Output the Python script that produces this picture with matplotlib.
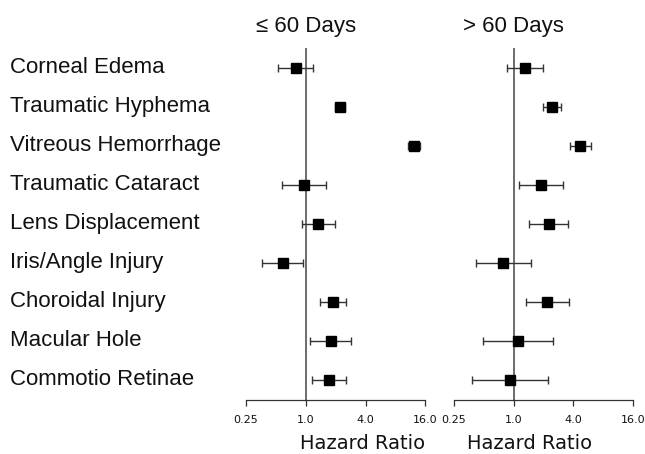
import numpy as np
import matplotlib
matplotlib.use("Agg")
import matplotlib.pyplot as plt
import matplotlib.ticker as ticker
from matplotlib.transforms import blended_transform_factory

# Row labels (top to bottom)
outcomes = [
    "Corneal Edema", "Traumatic Hyphema", "Vitreous Hemorrhage",
    "Traumatic Cataract", "Lens Displacement", "Iris/Angle Injury",
    "Choroidal Injury", "Macular Hole", "Commotio Retinae",
]

# <= 60 days: hazard ratio, lower CI, upper CI
hr_early = [0.79, 2.20, 12.2, 0.95, 1.33, 0.59, 1.89, 1.79, 1.72]
lo_early = [0.53, 1.96, 10.8, 0.57, 0.91, 0.36, 1.39, 1.11, 1.15]
hi_early = [1.18, 2.51, 14.0, 1.59, 1.96, 0.93, 2.55, 2.84, 2.57]

# > 60 days
hr_late = [1.31, 2.47, 4.74, 1.91, 2.28, 0.79, 2.20, 1.11, 0.92]
lo_late = [0.86, 2.00, 3.73, 1.14, 1.44, 0.42, 1.34, 0.49, 0.38]
hi_late = [1.98, 3.02, 6.03, 3.19, 3.58, 1.50, 3.67, 2.49, 2.23]

ticks = [0.25, 1.0, 4.0, 16.0]
tick_labels = ["0.25", "1.0", "4.0", "16.0"]
panel_titles = ["\u2264 60 Days", "> 60 Days"]

W, H = 645, 454
fig = plt.figure(figsize=(W / 100, H / 100), dpi=100)

LABEL_FONT = ["Liberation Sans", "DejaVu Sans"]
LINE = "#333333"

axes_px = [(246, 425.3), (454, 632.7)]
top_px, bot_px = 48, 399.5
hr_label_x = [363, 530]

y = np.arange(len(outcomes))

for i, (hr, lo, hi) in enumerate([(hr_early, lo_early, hi_early),
                                  (hr_late, lo_late, hi_late)]):
    x0, x1 = axes_px[i]
    ax = fig.add_axes([x0 / W, (H - bot_px) / H, (x1 - x0) / W, (bot_px - top_px) / H])
    hr_a, lo_a, hi_a = np.array(hr), np.array(lo), np.array(hi)
    ax.errorbar(hr_a, y, xerr=[hr_a - lo_a, hi_a - hr_a], fmt="s",
                color="black", ecolor=LINE, elinewidth=1.0, capsize=3,
                capthick=1.0, markersize=6.5, clip_on=False, zorder=3)
    ax.axvline(1.0, color="#444444", linewidth=1.1, zorder=1)

    ax.set_xscale("log", base=2)
    ax.set_xlim(0.25, 16)
    ax.set_ylim(len(outcomes) - 0.5, -0.5)
    ax.set_xticks(ticks)
    ax.xaxis.set_major_formatter(ticker.FixedFormatter(tick_labels))
    ax.xaxis.set_minor_locator(ticker.NullLocator())
    ax.set_yticks([])
    for s in ["top", "right", "left"]:
        ax.spines[s].set_visible(False)
    ax.spines["bottom"].set_color(LINE)
    ax.spines["bottom"].set_linewidth(0.9)
    ax.tick_params(axis="x", length=4.5, width=0.9, color=LINE, pad=7,
                   labelsize=8, labelcolor="#111111")
    ax.patch.set_alpha(0)

    tr = blended_transform_factory(ax.transData, ax.transAxes)
    ax.text(1.0, (bot_px - 32) / (bot_px - top_px), panel_titles[i],
            transform=tr, ha="center", va="baseline", fontsize=16,
            family=LABEL_FONT, color="#111111")

    fig.text(hr_label_x[i] / W, (H - 449) / H, "Hazard Ratio", ha="center",
             va="baseline", fontsize=14, family="DejaVu Sans", color="#111111")

    if i == 0:
        trl = blended_transform_factory(fig.transFigure, ax.transData)
        for k, name in enumerate(outcomes):
            ax.text(10 / W, k, name, transform=trl, ha="left", va="center",
                    fontsize=16, family=LABEL_FONT, color="#111111")

fig.savefig("out.png", dpi=100, facecolor="white")
